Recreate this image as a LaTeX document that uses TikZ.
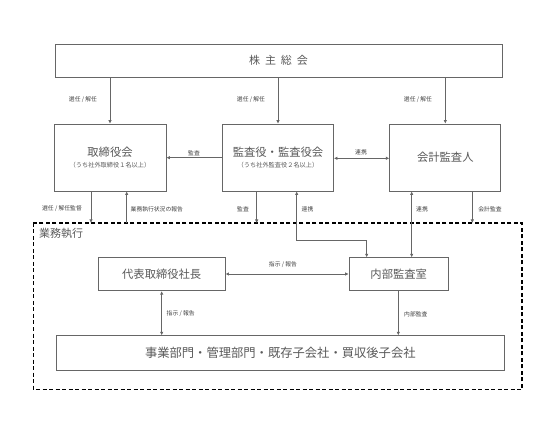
\documentclass[tikz,border=0pt]{standalone}
\usepackage{fontspec}
\setmainfont{Noto Sans CJK JP}
\usetikzlibrary{arrows.meta}
\definecolor{txt}{HTML}{595959}
\definecolor{lbltxt}{HTML}{404040}
\definecolor{ln}{HTML}{666666}
\newcommand\myttlfont{\fontsize{11.3}{13}\selectfont}
\newcommand\mysubfont{\fontsize{6.2}{7}\selectfont}
\tikzset{
  box/.style={draw=ln, line width=0.8pt, fill=white, inner sep=0pt, text=txt, align=center},
  arr/.style={draw=ln, line width=0.8pt, -{Latex[length=3.5pt,width=3.5pt]}},
  darr/.style={draw=ln, line width=0.8pt, {Latex[length=3.5pt,width=3.5pt]}-{Latex[length=3.5pt,width=3.5pt]}},
  lbl/.style={font=\fontsize{5.8}{7}\selectfont, text=lbltxt, inner sep=1pt},
  ttl/.style={font=\myttlfont},
}
\begin{document}
\begin{tikzpicture}[x=1pt,y=-1pt]
\useasboundingbox (0,0) rectangle (555,425);
% dashed execution area
\draw[black, line width=1.1pt, dash pattern=on 4pt off 2.5pt] (33.3,223) rectangle (522,389.3);
\node[anchor=west, text=txt, font=\fontsize{11}{13}\selectfont, inner sep=0pt] (gyomu) at (39,233.5) {業務執行};

\node[box, minimum width=447pt, minimum height=33pt, font=\fontsize{11}{13}\selectfont] (sh) at (278.5,60.5) {株\hspace{0.45em}主\hspace{0.45em}総\hspace{0.45em}会};

\node[box, minimum width=112pt, minimum height=67pt] (board) at (110,157.5) {{\myttlfont 取締役会}\\[-1pt]{\mysubfont （うち社外取締役１名以上）}};
\node[box, minimum width=111pt, minimum height=67pt] (kansa) at (278,157.5) {{\myttlfont 監査役・監査役会}\\[-1pt]{\mysubfont （うち社外監査役２名以上）}};
\node[box, minimum width=111pt, minimum height=67pt, ttl] (acc) at (445.3,157.5) {会計監査人};

\node[box, minimum width=126.7pt, minimum height=33pt, ttl] (ceo) at (161.7,274.2) {代表取締役社長};
\node[box, minimum width=99.3pt, minimum height=33pt, ttl] (ia) at (398.7,274.2) {内部監査室};
\node[box, minimum width=447.3pt, minimum height=34.3pt, font=\fontsize{12.3}{14}\selectfont] (bot) at (280.3,352.8) {事業部門・管理部門・既存子会社・買収後子会社};

% shareholders arrows
\draw[arr] (sh.south -| board.north) -- (board.north);
\draw[arr] (sh.south -| kansa.north) -- (kansa.north);
\draw[arr] (sh.south -| acc.north) -- (acc.north);
\node[lbl] (l1) at (83,100) {選任 / 解任};
\node[lbl] (l2) at (251,100) {選任 / 解任};
\node[lbl] (l3) at (418,100) {選任 / 解任};

% kansa -> board
\draw[arr] (kansa.west |- 0,157.7) -- (board.east |- 0,157.7);
\node[lbl] (l4) at (194,153) {監査};
% kansa <-> acc
\draw[darr] (kansa.east |- 0,158.3) -- (acc.west |- 0,158.3);
\node[lbl] (l5) at (361,152.7) {連携};

% board <-> execution area
\coordinate (d1) at (91,223);
\coordinate (d2) at (126.7,223);
\coordinate (d3) at (256.7,223);
\coordinate (d4) at (472.3,223);
\draw[arr] (board.south -| d1) -- (d1);
\draw[arr] (d2) -- (board.south -| d2);
\node[lbl] (l6) at (62,209) {選任 / 解任監督};
\node[lbl, anchor=west] (l7) at (129.5,209) {業務執行状況の報告};
\draw[arr] (kansa.south -| d3) -- (d3);
\node[lbl] (l8) at (243,209) {監査};
\draw[arr] (acc.south -| d4) -- (d4);
\node[lbl] (l9) at (490,209) {会計監査};

% kansa <-> internal audit
\coordinate (k1) at (296.7,240);
\coordinate (k2) at (366.7,240);
\draw[darr] (kansa.south -| k1) -- (k1) -- (k2) -- (ia.north -| k2);
\node[lbl] (l10) at (307.5,209) {連携};
% acc <-> internal audit
\coordinate (a1) at (411.7,200);
\draw[darr] (acc.south -| a1) -- (ia.north -| a1);
\node[lbl] (l11) at (422,209) {連携};

% ceo <-> ia
\draw[darr] (ceo.east |- 0,274) -- (ia.west |- 0,274);
\node[lbl] (l12) at (283,265) {指示 / 報告};
% ceo <-> bottom
\coordinate (c1) at (161.7,300);
\draw[darr] (ceo.south -| c1) -- (bot.north -| c1);
\node[lbl, anchor=west] (l13) at (165.5,314) {指示 / 報告};
% ia -> bottom
\coordinate (i1) at (398.3,300);
\draw[arr] (ia.south -| i1) -- (bot.north -| i1);
\node[lbl, anchor=west] (l14) at (403,314) {内部監査};
\end{tikzpicture}
\end{document}
